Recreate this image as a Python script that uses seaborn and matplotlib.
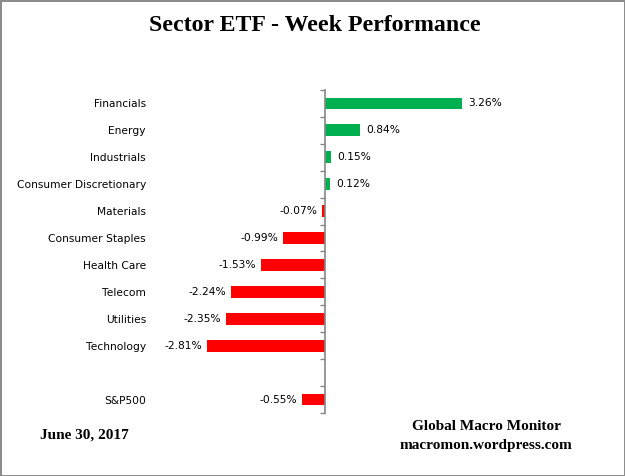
import pandas as pd
import numpy as np
import matplotlib
matplotlib.use('Agg')
import matplotlib.pyplot as plt
import seaborn as sns

# data
sectors = ['Financials', 'Energy', 'Industrials', 'Consumer Discretionary', 'Materials',
           'Consumer Staples', 'Health Care', 'Telecom', 'Utilities', 'Technology']
sector_values = [3.26, 0.84, 0.15, 0.12, -0.07, -0.99, -1.53, -2.24, -2.35, -2.81]
benchmark = 'S&P500'
benchmark_value = -0.55

# blank row between sectors and benchmark
labels = sectors + [' ', benchmark]
values = sector_values + [0.0, benchmark_value]
df = pd.DataFrame({'Sektor': labels, 'Perf': values})
colors = ['#00B050' if v > 0 else '#FF0000' for v in values]

sns.set_style('white')
plt.rcParams['font.family'] = ['DejaVu Sans']
plt.rcParams['text.color'] = 'black'
plt.rcParams['ytick.color'] = '#868686'
plt.rcParams['ytick.labelcolor'] = 'black'

fig = plt.figure(figsize=(6.25, 4.76), dpi=100)
fig.patch.set_edgecolor('#8c8c8c')
fig.patch.set_linewidth(2)
ax = fig.add_axes([0.24, 0.1324, 0.72, 0.6786])

sns.barplot(data=df, x='Perf', y='Sektor', hue='Sektor', palette=colors, legend=False,
            width=0.44, saturation=1, linewidth=0, ax=ax, orient='h')

ax.set_xlim(-4.17, 6.55)
ax.set_ylim(len(labels) - 0.5, -0.5)
ax.set_xlabel('')
ax.set_ylabel('')
ax.set_xticks([])
for s in ['top', 'right', 'bottom']:
    ax.spines[s].set_visible(False)
ax.spines['left'].set_position(('data', 0))
ax.spines['left'].set_color('#868686')
ax.spines['left'].set_linewidth(1.2)
ax.tick_params(axis='y', which='major', left=False, length=0, pad=129, labelsize=7.7)
ax.set_yticks(np.arange(-0.5, len(labels), 1.0), minor=True)
ax.tick_params(axis='y', which='minor', left=True, length=3.5, width=1,
               color='#868686', direction='out')

# value labels
for i, v in enumerate(values):
    if labels[i].strip() == '':
        continue
    if v >= 0:
        ax.text(v + 0.15, i, f'{v:.2f}%', va='center', ha='left', fontsize=7.7)
    else:
        ax.text(v - 0.12, i, f'{v:.2f}%', va='center', ha='right', fontsize=7.7)

fig.text(0.503, 0.947, 'Sector ETF - Week Performance', ha='center', va='center',
         family='Liberation Serif', fontweight='bold', fontsize=17.2)
fig.text(0.135, 0.086, 'June 30, 2017', ha='center', va='center',
         family='Liberation Serif', fontweight='bold', fontsize=11)
fig.text(0.778, 0.103, 'Global Macro Monitor', ha='center', va='center',
         family='Liberation Serif', fontweight='bold', fontsize=11)
fig.text(0.778, 0.065, 'macromon.wordpress.com', ha='center', va='center',
         family='Liberation Serif', fontweight='bold', fontsize=11)

plt.savefig('out.png', dpi=100)
